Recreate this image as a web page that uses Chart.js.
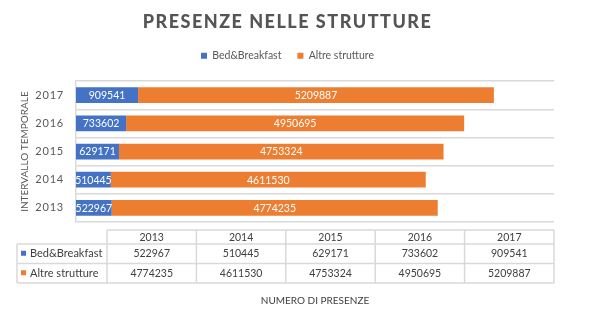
<!DOCTYPE html>
<html>
<head>
<meta charset="utf-8">
<script src="https://cdn.jsdelivr.net/npm/chart.js@4/dist/chart.umd.min.js"></script>
<style>
  html, body { margin: 0; padding: 0; background: #ffffff; }
  canvas { display: block; }
</style>
</head>
<body>
<canvas id="c" width="590" height="321"></canvas>
<script>
// ---- data ----
const years = ['2013', '2014', '2015', '2016', '2017'];
const seriesNames = ['Bed&Breakfast', 'Altre strutture'];
const bedBreakfast = [522967, 510445, 629171, 733602, 909541];
const altreStrutture = [4774235, 4611530, 4753324, 4950695, 5209887];
const chartTitle = 'PRESENZE NELLE STRUTTURE';
const yTitle = 'INTERVALLO TEMPORALE';
const xTitle = 'NUMERO DI PRESENZE';
const xMax = 7000000;

const BLUE = '#4472C4';
const ORANGE = '#ED7D31';
const GRID = '#D9D9D9';
const FONT = 'Lato';

// letter spacing for title and category labels
const spacingPlugin = {
  id: 'spacing',
  afterLayout(chart) {
    const tb = chart.titleBlock;
    if (tb && !tb._ls) {
      const o = tb.draw;
      tb.draw = function (...a) { const c = this.ctx; c.save(); c.letterSpacing = '1.5px'; o.apply(this, a); c.restore(); };
      tb._ls = true;
    }
    const ys = chart.scales.y;
    if (ys && !ys._ls) {
      const o2 = ys.drawLabels;
      ys.drawLabels = function (...a) { const c = this.ctx; c.save(); c.letterSpacing = '0.8px'; o2.apply(this, a); c.restore(); };
      ys._ls = true;
    }
  }
};

// value labels inside bars
const barLabels = {
  id: 'barLabels',
  afterDatasetsDraw(chart) {
    const ctx = chart.ctx, a = chart.chartArea;
    ctx.save();
    ctx.beginPath();
    ctx.rect(a.left, a.top, a.right - a.left, a.bottom - a.top);
    ctx.clip();
    ctx.font = '10.5px ' + FONT;
    ctx.fillStyle = '#ffffff';
    ctx.textAlign = 'center';
    ctx.textBaseline = 'middle';
    chart.data.datasets.forEach((ds, di) => {
      const meta = chart.getDatasetMeta(di);
      meta.data.forEach((el, i) => {
        const p = el.getCenterPoint();
        ctx.fillText(String(ds.data[i]), p.x, p.y + 0.5);
      });
    });
    ctx.restore();
  }
};

// data table below the plot
const dataTable = {
  id: 'dataTable',
  afterDraw(chart) {
    const ctx = chart.ctx, a = chart.chartArea;
    const top = 230, headerH = 14, rowH = 19.5;
    const leftX = 17, firstColX = 107, right = a.right;
    const n = chart.data.labels.length;
    const colW = (right - firstColX) / n;
    const rows = chart.data.datasets.length;
    const bottom = top + headerH + rows * rowH;
    ctx.save();
    ctx.strokeStyle = GRID;
    ctx.lineWidth = 1.5;
    ctx.beginPath();
    ctx.moveTo(firstColX, top); ctx.lineTo(right, top);
    for (let r = 0; r <= rows; r++) {
      const y = top + headerH + r * rowH;
      ctx.moveTo(leftX, y); ctx.lineTo(right, y);
    }
    ctx.moveTo(leftX, top + headerH); ctx.lineTo(leftX, bottom);
    for (let c = 0; c <= n; c++) {
      const x = firstColX + c * colW;
      ctx.moveTo(x, top); ctx.lineTo(x, bottom);
    }
    ctx.stroke();

    ctx.fillStyle = '#404040';
    ctx.textBaseline = 'middle';
    ctx.textAlign = 'center';
    ctx.font = '10.5px ' + FONT;
    chart.data.labels.forEach((lab, c) => {
      ctx.fillText(lab, firstColX + (c + 0.5) * colW, top + headerH / 2 + 0.5);
    });
    chart.data.datasets.forEach((ds, r) => {
      const yc = top + headerH + (r + 0.5) * rowH;
      ctx.textAlign = 'center';
      ctx.font = '10.5px ' + FONT;
      ctx.fillStyle = '#404040';
      ds.data.forEach((v, c) => {
        ctx.fillText(String(v), firstColX + (c + 0.5) * colW, yc);
      });
      ctx.fillStyle = ds.backgroundColor;
      ctx.fillRect(leftX + 4, yc - 3, 5, 5);
      ctx.fillStyle = '#404040';
      ctx.textAlign = 'left';
      ctx.font = '11px ' + FONT;
      ctx.fillText(ds.label, leftX + 13, yc);
    });
    ctx.restore();
  }
};

function draw() {
  Chart.defaults.font.family = FONT;
  new Chart(document.getElementById('c'), {
    type: 'bar',
    data: {
      labels: years,
      datasets: [
        { label: seriesNames[0], data: bedBreakfast, backgroundColor: BLUE, borderWidth: 0, xAxisID: 'x', yAxisID: 'y' },
        { label: seriesNames[1], data: altreStrutture, backgroundColor: ORANGE, borderWidth: 0, xAxisID: 'x', yAxisID: 'y' }
      ]
    },
    options: {
      indexAxis: 'y',
      responsive: false,
      maintainAspectRatio: false,
      animation: false,
      devicePixelRatio: 1,
      layout: { padding: { top: 0, left: 0, right: 15, bottom: 0 } },
      datasets: { bar: { categoryPercentage: 1, barPercentage: 0.56 } },
      plugins: {
        tooltip: { enabled: false },
        title: {
          display: true,
          text: chartTitle,
          color: '#555555',
          font: { family: FONT, size: 18, weight: 900 },
          padding: { top: 11, bottom: 2 }
        },
        legend: {
          display: true,
          position: 'top',
          labels: {
            color: '#595959',
            font: { family: FONT, size: 10.5 },
            boxWidth: 6,
            boxHeight: 6,
            padding: 16
          }
        }
      },
      scales: {
        x: {
          type: 'linear',
          position: 'bottom',
          stacked: true,
          min: 0,
          max: xMax,
          ticks: { display: false },
          grid: { display: false },
          border: { display: false },
          title: {
            display: true,
            text: xTitle,
            color: '#404040',
            font: { family: FONT, size: 10 },
            padding: { top: 0, bottom: 14 }
          },
          afterFit(s) { s.height = 99; }
        },
        xTop: {
          axis: 'x',
          type: 'linear',
          position: 'top',
          min: 0,
          max: 1,
          ticks: { display: false },
          grid: { display: false },
          border: { display: false },
          afterFit(s) { s.height = 10; }
        },
        y: {
          type: 'category',
          position: 'left',
          stacked: true,
          reverse: true,
          ticks: { color: '#595959', font: { family: FONT, size: 11 }, padding: 12 },
          grid: { color: GRID, lineWidth: 1.5, drawTicks: false, offset: true },
          border: { display: true, color: GRID, width: 1.5 },
          title: {
            display: true,
            text: yTitle,
            color: '#595959',
            font: { family: FONT, size: 10 },
            padding: { top: 19, bottom: 0 }
          },
          afterFit(s) { s.width = 76; }
        },
        yRight: {
          axis: 'y',
          type: 'category',
          position: 'right',
          ticks: { display: false },
          grid: { display: false },
          border: { display: false },
          afterFit(s) { s.width = 21; }
        }
      }
    },
    plugins: [spacingPlugin, barLabels, dataTable]
  });
}

if (document.fonts && document.fonts.load) {
  Promise.all([
    document.fonts.load('900 18px Lato'),
    document.fonts.load('10.5px Lato')
  ]).then(draw, draw);
} else {
  draw();
}
</script>
</body>
</html>
